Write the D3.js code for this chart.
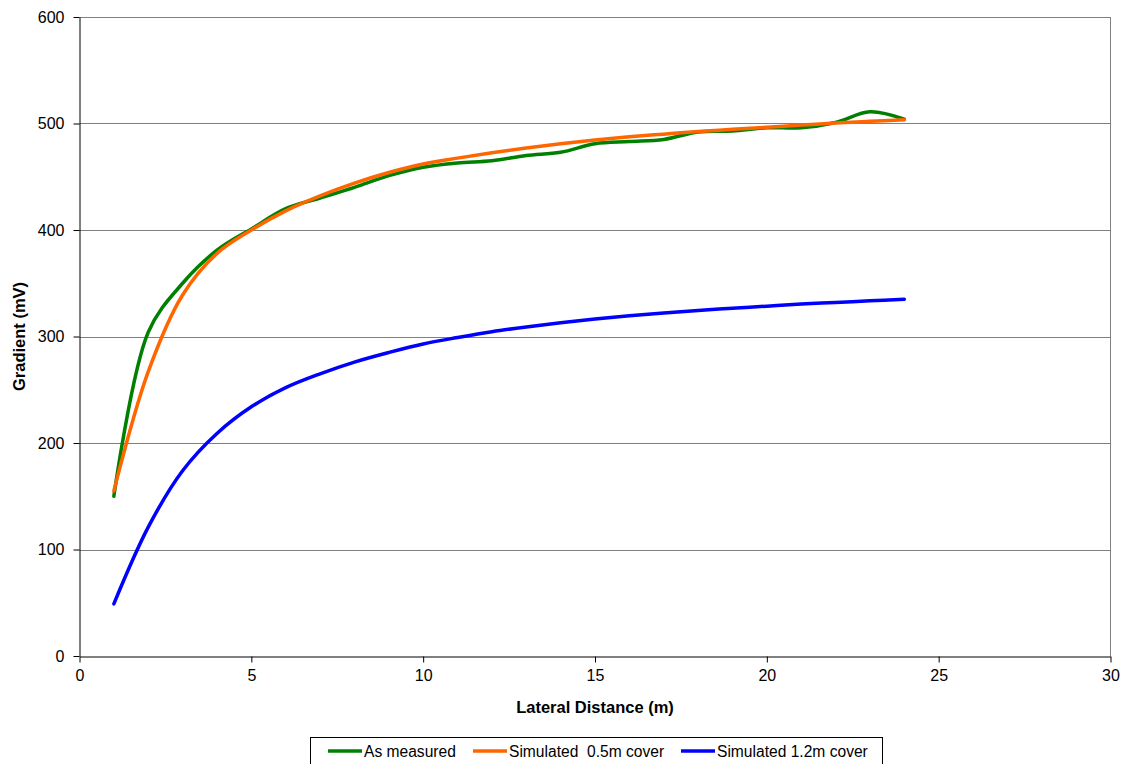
<!DOCTYPE html>
<html>
<head>
<meta charset="utf-8">
<script src="https://cdn.jsdelivr.net/npm/d3@7"></script>
<style>
  body { margin: 0; background: #fff; }
  text { font-family: "Liberation Sans", Arial, sans-serif; }
</style>
</head>
<body>
<div id="chart"></div>
<script>
// distances (m)
const distance = [1, 2, 3, 4, 5, 6, 7, 8, 9, 10, 11, 12, 13, 14, 15, 16, 17, 18, 19, 20, 21, 22, 23, 24]

// gradients (mV)
const asMeasured = [150, 304, 350, 381, 401, 420, 430, 440, 451, 459, 463, 465, 470, 473, 481, 483, 485, 492, 493, 496, 496, 501, 511, 504]
const sim05 = [155, 267, 339, 378, 400, 418, 432, 444, 454, 462, 467.5, 472.5, 477, 481, 484.5, 487.5, 490, 492.5, 494.5, 496.5, 498.5, 500.5, 502, 503.5]
const sim12 = [49, 121, 174, 209, 234, 252, 265, 276, 285, 293, 299, 304.5, 309, 313, 316.5, 319.5, 322, 324.5, 326.5, 328.5, 330.5, 332, 333.5, 335]

const seriesNames = ["As measured", "Simulated  0.5m cover", "Simulated 1.2m cover"]
const seriesColors = ["#008000", "#ff6600", "#0000ff"]
const xTicks = [0, 5, 10, 15, 20, 25, 30]
const yTicks = [0, 100, 200, 300, 400, 500, 600]

const width = 1124, height = 764
const margin = { top: 17, right: 13.5, bottom: 108, left: 79.5 }

const svg = d3.select("#chart").append("svg")
    .attr("width", width)
    .attr("height", height)

const x = d3.scaleLinear().domain([0, 30]).range([margin.left, width - margin.right])
const y = d3.scaleLinear().domain([0, 600]).range([height - margin.bottom, margin.top])

// grid
svg.append("g")
    .selectAll("line")
    .data(yTicks.filter(d => d > 0))
    .join("line")
    .attr("x1", x(0)).attr("x2", x(30))
    .attr("y1", d => Math.round(y(d)) + 0.5).attr("y2", d => Math.round(y(d)) + 0.5)
    .attr("stroke", "#808080")
    .attr("stroke-width", 1)

// right border
svg.append("line")
    .attr("x1", x(30)).attr("x2", x(30))
    .attr("y1", y(600)).attr("y2", y(0))
    .attr("stroke", "#808080")

// axes
const xAxis = svg.append("g")
    .attr("transform", `translate(0,${Math.round(y(0)) + 0.5})`)
    .call(d3.axisBottom(x).tickValues(xTicks).tickSize(6).tickSizeOuter(0))
xAxis.select(".domain").attr("stroke", "#000")
xAxis.selectAll("text").attr("font-size", "16px").attr("fill", "#000").attr("dy", "0.95em")

const yAxis = svg.append("g")
    .attr("transform", `translate(${margin.left},0)`)
    .call(d3.axisLeft(y).tickValues(yTicks).tickSize(6).tickSizeOuter(0))
yAxis.select(".domain").attr("stroke", "#000")
yAxis.selectAll("text").attr("font-size", "16px").attr("fill", "#000").attr("x", -15)

// axis titles
svg.append("text")
    .attr("x", x(15)).attr("y", 713)
    .attr("text-anchor", "middle")
    .attr("font-size", "16.5px").attr("font-weight", "bold")
    .text("Lateral Distance (m)")

svg.append("text")
    .attr("transform", `translate(25,${y(300)}) rotate(-90)`)
    .attr("text-anchor", "middle")
    .attr("font-size", "16.5px").attr("font-weight", "bold")
    .text("Gradient (mV)")

// lines
const allSeries = [asMeasured, sim05, sim12]
const line = d3.line()
    .curve(d3.curveCatmullRom.alpha(0.5))
    .x((d, i) => x(distance[i]))
    .y(d => y(d))

svg.append("g")
    .selectAll("path")
    .data(allSeries)
    .join("path")
    .attr("fill", "none")
    .attr("stroke", (d, i) => seriesColors[i])
    .attr("stroke-width", 3.5)
    .attr("stroke-linecap", "round")
    .attr("stroke-linejoin", "round")
    .attr("d", line)

// legend
const legend = svg.append("g")
legend.append("rect")
    .attr("x", 310.5).attr("y", 737.5)
    .attr("width", 572).attr("height", 40)
    .attr("fill", "#fff").attr("stroke", "#000")

const legendX = [328, 473, 681]
const item = legend.selectAll("g.item")
    .data(seriesNames)
    .join("g")
    .attr("transform", (d, i) => `translate(${legendX[i]},751)`)
item.append("line")
    .attr("x1", 0).attr("x2", 34)
    .attr("stroke", (d, i) => seriesColors[i])
    .attr("stroke-width", 3.5)
item.append("text")
    .attr("x", 36).attr("dy", "0.38em")
    .attr("font-size", "15.6px")
    .attr("xml:space", "preserve")
    .style("white-space", "pre")
    .text(d => d)
</script>
</body>
</html>
